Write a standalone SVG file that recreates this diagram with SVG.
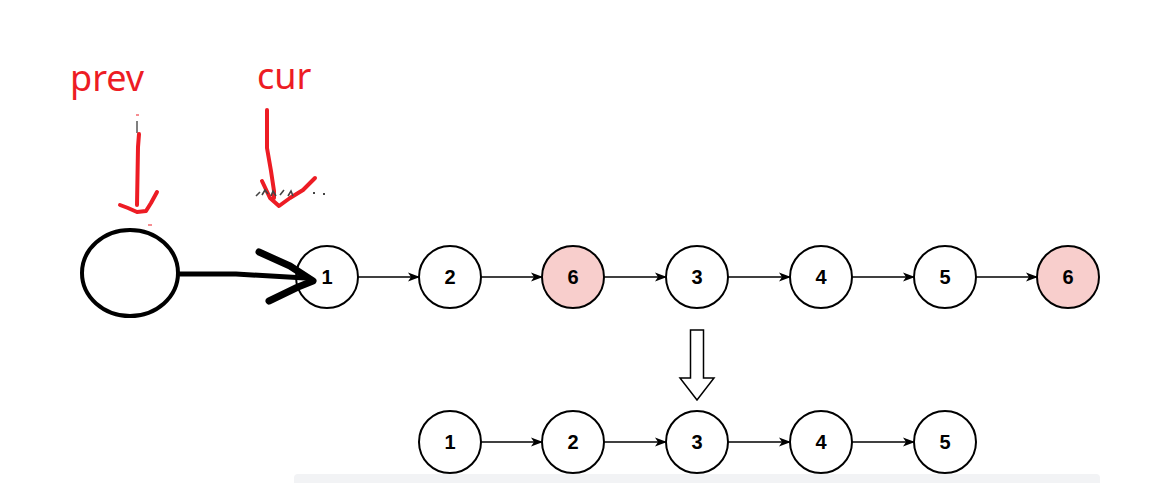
<svg xmlns="http://www.w3.org/2000/svg" width="1162" height="491" viewBox="0 0 1162 491">
<style>
.n{stroke:#000;stroke-width:2;fill:#fff}
.p{fill:#f8cecc}
.t{font-family:"Liberation Sans",Arial,sans-serif;font-weight:bold;font-size:20px;text-anchor:middle;dominant-baseline:central;fill:#000}
.e{stroke:#000;stroke-width:1.5;fill:none;marker-end:url(#ah)}
.red{stroke:#ed1c24;stroke-width:4;fill:none;stroke-linecap:round;stroke-linejoin:round}
.lbl{font-family:"Noto Sans","Liberation Sans",sans-serif;font-size:36px;fill:#ed1c24}
</style>
<defs>
<marker id="ah" markerWidth="12" markerHeight="12" refX="11" refY="6" orient="auto" markerUnits="userSpaceOnUse">
<path d="M0,1.5 L12,6 L0,10.5 L3,6 Z" fill="#000"/>
</marker>
</defs>
<rect width="1162" height="491" fill="#fff"/>
<rect x="294" y="474" width="806" height="9" rx="4" fill="#f2f3f5"/>
<rect x="294" y="478" width="806" height="5" fill="#f2f3f5"/>
<g id="connectors">
<path class="e" d="M358,277 H419"/>
<path class="e" d="M481,277 H542"/>
<path class="e" d="M604,277 H666"/>
<path class="e" d="M728,277 H790"/>
<path class="e" d="M852,277 H914"/>
<path class="e" d="M976,277 H1037"/>
<path class="e" d="M481,442 H542"/>
<path class="e" d="M604,442 H666"/>
<path class="e" d="M728,442 H790"/>
<path class="e" d="M852,442 H914"/>
<path d="M690.5,330 H703.5 V378 H714 L697,400 L680,378 H690.5 Z" fill="#fff" stroke="#000" stroke-width="1.5"/>
</g>
<g id="n1"><circle class="n" cx="327" cy="277" r="31"/><text class="t" x="327" y="277">1</text></g>
<g id="n2"><circle class="n" cx="450" cy="277" r="31"/><text class="t" x="450" y="277">2</text></g>
<g id="n6a"><circle class="n p" cx="573" cy="277" r="31"/><text class="t" x="573" y="277">6</text></g>
<g id="n3"><circle class="n" cx="697" cy="277" r="31"/><text class="t" x="697" y="277">3</text></g>
<g id="n4"><circle class="n" cx="821" cy="277" r="31"/><text class="t" x="821" y="277">4</text></g>
<g id="n5"><circle class="n" cx="945" cy="277" r="31"/><text class="t" x="945" y="277">5</text></g>
<g id="n6b"><circle class="n p" cx="1068" cy="277" r="31"/><text class="t" x="1068" y="277">6</text></g>
<g id="m1"><circle class="n" cx="450" cy="442" r="31"/><text class="t" x="450" y="442">1</text></g>
<g id="m2"><circle class="n" cx="573" cy="442" r="31"/><text class="t" x="573" y="442">2</text></g>
<g id="m3"><circle class="n" cx="697" cy="442" r="31"/><text class="t" x="697" y="442">3</text></g>
<g id="m4"><circle class="n" cx="821" cy="442" r="31"/><text class="t" x="821" y="442">4</text></g>
<g id="m5"><circle class="n" cx="945" cy="442" r="31"/><text class="t" x="945" y="442">5</text></g>
<g id="prev-node"><ellipse cx="130" cy="273" rx="48" ry="43" fill="#fff" stroke="#000" stroke-width="4"/></g>
<g id="ink">
<path d="M180,274 L236,274 L305,278" stroke="#000" stroke-width="5" fill="none" stroke-linecap="round"/>
<path d="M259,252 L290,266 L313,281 L298,287 L269,301" stroke="#000" stroke-width="7" fill="none" stroke-linecap="round" stroke-linejoin="round"/>
<line x1="137" y1="121" x2="137" y2="133" stroke="#000" stroke-width="1"/>
<line x1="136" y1="115" x2="139" y2="115" stroke="#ed1c24" stroke-width="1"/>
<line x1="148" y1="225" x2="152" y2="225" stroke="#ed1c24" stroke-width="1"/>
<path class="red" d="M139,134 L138,147 L137,205"/>
<path class="red" d="M120,205 L128,208 L137,212 L146,211 L151,203 L157,192"/>
<path class="red" d="M267,110 L267,148 L271,171 L274,191 L274,198"/>
<path class="red" d="M262,181 L270,198 L279,206 L290,198 L303,190 L315,178"/>
<path d="M256,196 l4,-4 M262,195 l3,-5 l3,4 M271,196 l2,-5 l3,5 M280,195 l4,-5 M288,196 l3,-5 l2,5" stroke="#444" stroke-width="1.6" fill="none"/>
<rect x="313" y="192" width="2" height="2" fill="#444"/><rect x="323" y="193" width="2" height="2" fill="#444"/>
<text class="lbl" x="70" y="91">prev</text>
<text class="lbl" x="257" y="89">cur</text>
</g>
</svg>
